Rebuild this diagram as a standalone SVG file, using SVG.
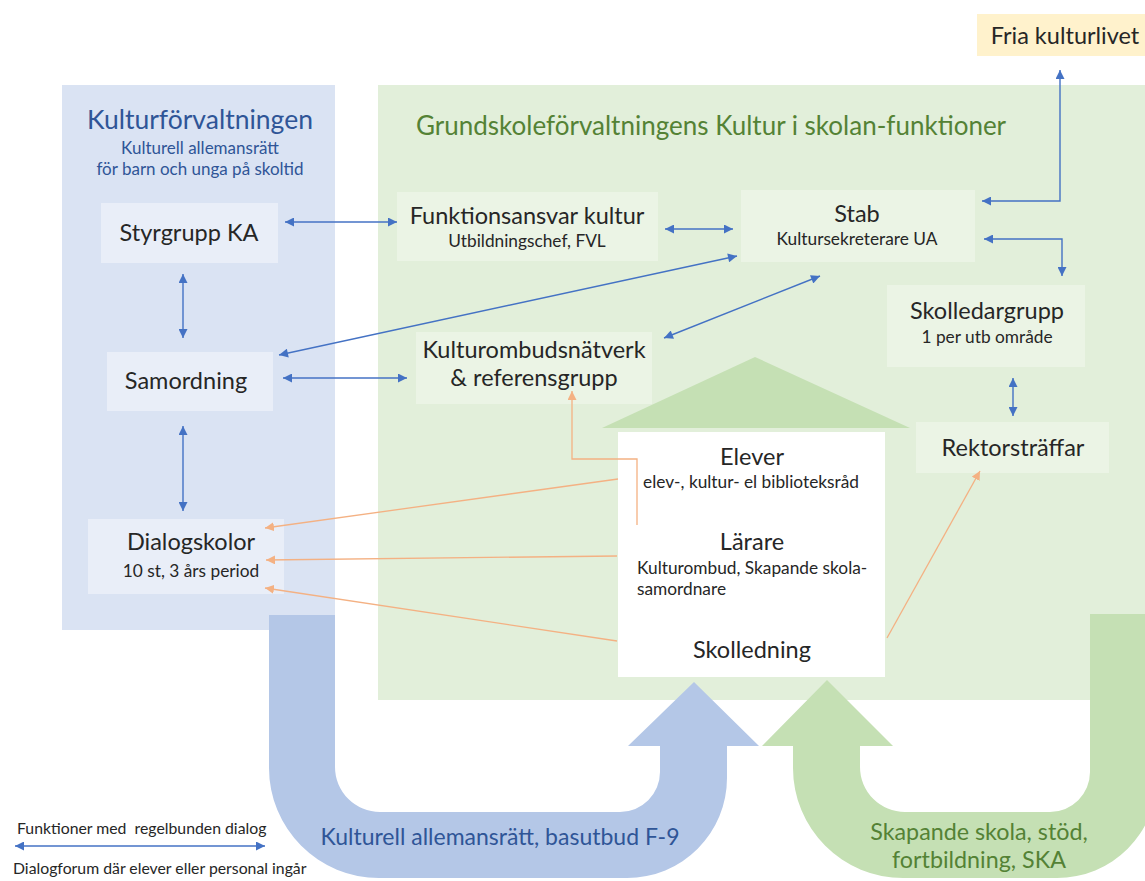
<svg xmlns="http://www.w3.org/2000/svg" width="1145" height="881" viewBox="0 0 1145 881">
<style>
text{font-family:Lato,"Open Sans","Liberation Sans",sans-serif;fill:#262626;white-space:pre}
.big{font-size:23.5px}
.small{font-size:17.3px}
.c{text-anchor:middle}
.bluebox{fill:#e9eef8}
.greenbox{fill:#ebf4e5}
.bl{stroke:#4472c4;stroke-width:1.4;fill:none;marker-start:url(#ab);marker-end:url(#ab)}
.or{stroke:#f4b183;stroke-width:1.3;fill:none;marker-end:url(#ao)}
</style>
<defs>
<marker id="ab" viewBox="0 0 10 10" refX="10" refY="5" markerWidth="10" markerHeight="9" markerUnits="userSpaceOnUse" orient="auto-start-reverse"><path d="M0,0 L10,5 L0,10 Z" fill="#4472c4"/></marker>
<marker id="ao" viewBox="0 0 10 10" refX="10" refY="5" markerWidth="9" markerHeight="9" markerUnits="userSpaceOnUse" orient="auto"><path d="M0,0 L10,5 L0,10 Z" fill="#f4b183"/></marker>
</defs>
<rect width="1145" height="881" fill="#ffffff"/>
<g id="panel-kultur">
<rect x="62" y="85" width="273" height="545" fill="#dae3f3"/>
<text x="200" y="129" class="c" style="font-size:26.5px;fill:#2f5597">Kulturförvaltningen</text>
<text x="200" y="154" class="c" style="font-size:17px;fill:#2f5597">Kulturell allemansrätt</text>
<text x="200" y="175" class="c" style="font-size:17px;fill:#2f5597">för barn och unga på skoltid</text>
</g>
<g id="panel-grund">
<rect x="378" y="85" width="767" height="615" fill="#e2efda"/>
<text x="416" y="135" style="font-size:26px;fill:#548235">Grundskoleförvaltningens Kultur i skolan-funktioner</text>
</g>
<g id="u-blue">
<path d="M269,615 L269,768 A110,110 0 0 0 379,878 L627,878 A100,100 0 0 0 727,778 L727,746 L759,746 L694,682 L628,746 L660,746 L660,772 A40,40 0 0 1 620,812 L380,812 A45,45 0 0 1 335,767 L335,615 Z" fill="#b4c7e7"/>
<text x="500" y="845" class="c" style="font-size:23px;fill:#2f5597">Kulturell allemansrätt, basutbud F-9</text>
</g>
<g id="u-green">
<path d="M1090,614 L1090,772 A40,40 0 0 1 1050,812 L905,812 A45,45 0 0 1 860,767 L860,746 L893,746 L827,680 L762,746 L793,746 L793,768 A110,110 0 0 0 903,878 L1057,878 A100,100 0 0 0 1157,778 L1157,614 Z" fill="#c5e0b4"/>
<text x="979" y="840" class="c" style="font-size:23.3px;fill:#548235">Skapande skola, stöd,</text>
<text x="979" y="868" class="c" style="font-size:23.3px;fill:#548235">fortbildning, SKA</text>
</g>
<g id="fria">
<rect x="977" y="14" width="168" height="42" fill="#fff2cc"/>
<text x="1065" y="44" class="c big">Fria kulturlivet</text>
</g>
<g id="styrgrupp">
<rect x="101" y="203" width="177" height="60" class="bluebox"/>
<text x="189" y="241" class="c big">Styrgrupp KA</text>
</g>
<g id="samordning">
<rect x="107" y="352" width="166" height="59" class="bluebox"/>
<text x="186" y="389" class="c big">Samordning</text>
</g>
<g id="dialogskolor">
<rect x="88" y="519" width="196" height="75" class="bluebox"/>
<text x="191" y="550" class="c big">Dialogskolor</text>
<text x="191" y="577" class="c small">10 st, 3 års period</text>
</g>
<g id="funktionsansvar">
<rect x="397" y="192" width="261" height="69" class="greenbox"/>
<text x="527" y="224" class="c big">Funktionsansvar kultur</text>
<text x="527" y="247" class="c small">Utbildningschef, FVL</text>
</g>
<g id="stab">
<rect x="741" y="190" width="234" height="72" class="greenbox"/>
<text x="857" y="222" class="c big">Stab</text>
<text x="857" y="245" class="c small">Kultursekreterare UA</text>
</g>
<g id="kulturombud">
<rect x="416" y="332" width="236" height="72" class="greenbox"/>
<text x="534" y="358" class="c big">Kulturombudsnätverk</text>
<text x="534" y="386" class="c big">&amp; referensgrupp</text>
</g>
<g id="skolledargrupp">
<rect x="887" y="285" width="198" height="82" class="greenbox"/>
<text x="987" y="319" class="c big">Skolledargrupp</text>
<text x="987" y="343" class="c small">1 per utb område</text>
</g>
<g id="rektorstraffar">
<rect x="916" y="422" width="193" height="51" class="greenbox"/>
<text x="1013" y="456" class="c big">Rektorsträffar</text>
</g>
<g id="skola">
<path d="M755,357 L910,428 L602,428 Z" fill="#c5e0b4"/>
<rect x="618" y="432" width="267" height="245" fill="#ffffff"/>
<text x="752" y="465" class="c big">Elever</text>
<text x="751" y="488" class="c small">elev-, kultur- el biblioteksråd</text>
<text x="752" y="550" class="c big">Lärare</text>
<text x="637" y="574" class="small">Kulturombud, Skapande skola-</text>
<text x="637" y="595" class="small">samordnare</text>
<text x="752" y="658" class="c big">Skolledning</text>
</g>
<g id="connectors">
<path class="bl" d="M285,222 L397,222"/>
<path class="bl" d="M665,229 L733,229"/>
<path class="bl" d="M982,201 L1060,201 L1060,70"/>
<path class="bl" d="M984,239 L1062,239 L1062,276"/>
<path class="bl" d="M1013,378 L1013,416"/>
<path class="bl" d="M183,274 L183,338"/>
<path class="bl" d="M183,426 L183,511"/>
<path class="bl" d="M283,378 L407,378"/>
<path class="bl" d="M737,256 L279,355"/>
<path class="bl" d="M820,276 L664,338"/>
<path class="or" d="M637,525 L637,459 L572,459 L572,391"/>
<path class="or" d="M618,479 L265,528"/>
<path class="or" d="M617,556 L266,560"/>
<path class="or" d="M617,641 L265,588"/>
<path class="or" d="M887,638 L980,471"/>
</g>
<g id="legend">
<text x="17" y="834" style="font-size:15.8px">Funktioner med  regelbunden dialog</text>
<path class="bl" d="M15,846 L265,846"/>
<text x="13" y="874" style="font-size:15.8px">Dialogforum där elever eller personal ingår</text>
</g>
</svg>
